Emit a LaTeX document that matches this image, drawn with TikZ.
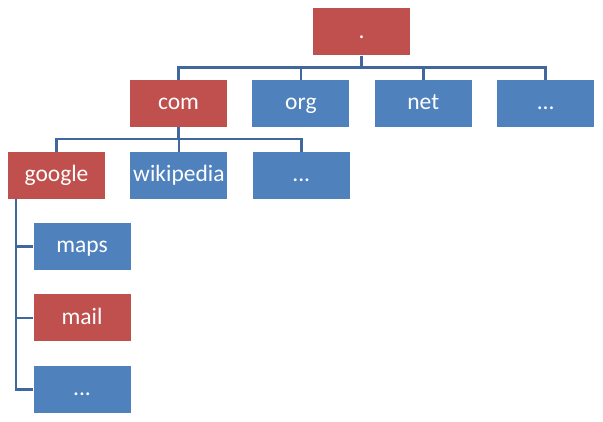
\documentclass[tikz,border=0pt]{standalone}
\usepackage{fontspec}
\setmainfont{Carlito}
\usepackage{tikz}
\usetikzlibrary{positioning}

\definecolor{domred}{RGB}{192,80,77}
\definecolor{domblue}{RGB}{79,129,189}
\definecolor{linkblue}{RGB}{64,104,158}

\begin{document}
\begin{tikzpicture}[x = 1pt, y = 1pt,
	box/.style = {fill = domblue, rectangle, text = white, inner sep = 1pt,
		minimum width = 97pt, minimum height = 47pt,
		text height = 17pt, text depth = 4pt,
		font = \fontsize{23.5}{28}\selectfont},
	hit/.style = {box, fill = domred},
	link/.style = {draw = linkblue, line width = 2.6pt},
	node distance = 25pt]
		\useasboundingbox (0,0) rectangle (603,-422);
		% top level
		\node[hit] at (361.5,-32) (root) {.};
		\node[hit] at (178.5,-103.5) (com) {com};
		\node[box, right = of com] (org) {org};
		\node[box, right = of org] (net) {net};
		\node[box, right = of net] (tlddots) {...};
		% second level
		\node[hit] at (56.5,-175.5) (google) {google};
		\node[box, right = of google] (wikipedia) {wikipedia};
		\node[box, right = of wikipedia] (comdots) {...};
		% third level
		\node[box] at (82,-246.5) (maps) {maps};
		\node[hit, below = 24pt of maps] (mail) {mail};
		\node[box, below = 24pt of mail] (googledots) {...};
		\foreach \c in {com, org, net, tlddots}
			\draw[link] (root.south) -- ++(0,-12) -| (\c.north);
		\foreach \c in {google, wikipedia, comdots}
			\draw[link] (com.south) -- ++(0,-12) -| (\c.north);
		\foreach \c in {maps, mail, googledots}
			\draw[link] ([xshift = 8pt]google.south west) |- (\c.west);
	\end{tikzpicture}
\end{document}
